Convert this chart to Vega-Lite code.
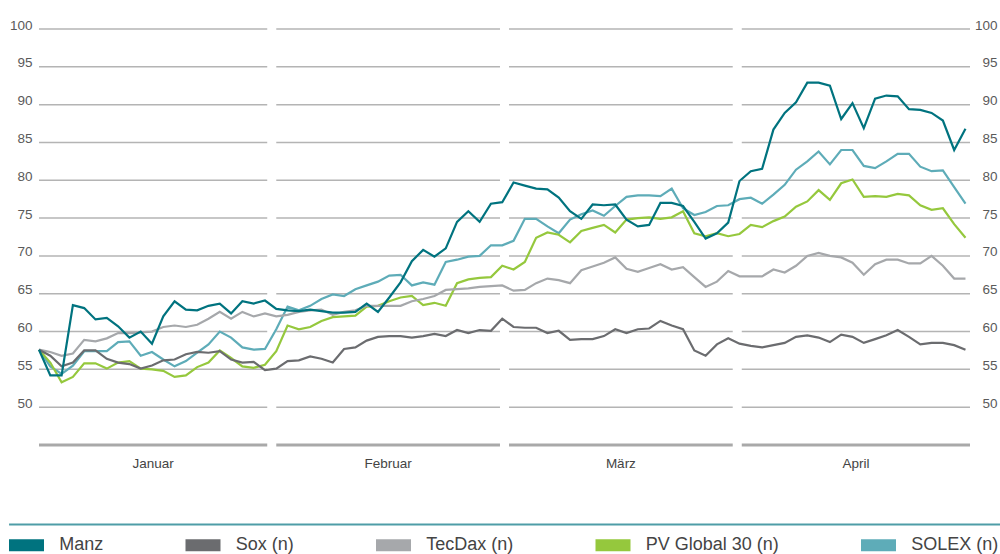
{
  "$schema": "https://vega.github.io/schema/vega-lite/v6.json",
  "width": 931,
  "height": 416,
  "autosize": "none",
  "padding": {"left": 39, "top": 29, "right": 30, "bottom": 109},
  "background": "white",
  "config": {"view": {"stroke": null}, "font": "Liberation Sans"},
  "datasets": {
    "months": [
      {"month": "Januar", "s": 0, "e": 20.2, "m": 10.1, "ys": [50, 55, 60, 65, 70, 75, 80, 85, 90, 95, 100]},
      {"month": "Februar", "s": 21.0, "e": 40.8, "m": 30.9, "ys": [50, 55, 60, 65, 70, 75, 80, 85, 90, 95, 100]},
      {"month": "März", "s": 41.6, "e": 61.4, "m": 51.5, "ys": [50, 55, 60, 65, 70, 75, 80, 85, 90, 95, 100]},
      {"month": "April", "s": 62.2, "e": 82.4, "m": 72.3, "ys": [50, 55, 60, 65, 70, 75, 80, 85, 90, 95, 100]}
    ],
    "prices": [
      {"i": 0, "Manz": 57.6, "Sox (n)": 57.6, "TecDax (n)": 57.6, "PV Global 30 (n)": 57.6, "SOLEX (n)": 57.6},
      {"i": 1, "Manz": 54.2, "Sox (n)": 56.8, "TecDax (n)": 57.3, "PV Global 30 (n)": 55.9, "SOLEX (n)": 55.4},
      {"i": 2, "Manz": 54.2, "Sox (n)": 55.4, "TecDax (n)": 56.8, "PV Global 30 (n)": 53.3, "SOLEX (n)": 54.4},
      {"i": 3, "Manz": 63.5, "Sox (n)": 55.9, "TecDax (n)": 57.1, "PV Global 30 (n)": 54.0, "SOLEX (n)": 55.5},
      {"i": 4, "Manz": 63.1, "Sox (n)": 57.5, "TecDax (n)": 58.9, "PV Global 30 (n)": 55.8, "SOLEX (n)": 57.4},
      {"i": 5, "Manz": 61.6, "Sox (n)": 57.5, "TecDax (n)": 58.7, "PV Global 30 (n)": 55.8, "SOLEX (n)": 57.4},
      {"i": 6, "Manz": 61.8, "Sox (n)": 56.4, "TecDax (n)": 59.1, "PV Global 30 (n)": 55.1, "SOLEX (n)": 57.4},
      {"i": 7, "Manz": 60.7, "Sox (n)": 55.9, "TecDax (n)": 59.8, "PV Global 30 (n)": 55.9, "SOLEX (n)": 58.6},
      {"i": 8, "Manz": 59.2, "Sox (n)": 55.7, "TecDax (n)": 59.8, "PV Global 30 (n)": 56.1, "SOLEX (n)": 58.7},
      {"i": 9, "Manz": 60.0, "Sox (n)": 55.1, "TecDax (n)": 59.9, "PV Global 30 (n)": 55.1, "SOLEX (n)": 56.8},
      {"i": 10, "Manz": 58.4, "Sox (n)": 55.5, "TecDax (n)": 60.0, "PV Global 30 (n)": 55.0, "SOLEX (n)": 57.3},
      {"i": 11, "Manz": 62.0, "Sox (n)": 56.2, "TecDax (n)": 60.6, "PV Global 30 (n)": 54.8, "SOLEX (n)": 56.3},
      {"i": 12, "Manz": 64.0, "Sox (n)": 56.3, "TecDax (n)": 60.8, "PV Global 30 (n)": 54.0, "SOLEX (n)": 55.4},
      {"i": 13, "Manz": 62.9, "Sox (n)": 57.0, "TecDax (n)": 60.6, "PV Global 30 (n)": 54.2, "SOLEX (n)": 56.1},
      {"i": 14, "Manz": 62.8, "Sox (n)": 57.3, "TecDax (n)": 60.9, "PV Global 30 (n)": 55.3, "SOLEX (n)": 57.2},
      {"i": 15, "Manz": 63.4, "Sox (n)": 57.2, "TecDax (n)": 61.7, "PV Global 30 (n)": 55.9, "SOLEX (n)": 58.3},
      {"i": 16, "Manz": 63.7, "Sox (n)": 57.4, "TecDax (n)": 62.6, "PV Global 30 (n)": 57.5, "SOLEX (n)": 60.0},
      {"i": 17, "Manz": 62.4, "Sox (n)": 56.3, "TecDax (n)": 61.7, "PV Global 30 (n)": 56.5, "SOLEX (n)": 59.2},
      {"i": 18, "Manz": 64.0, "Sox (n)": 55.9, "TecDax (n)": 62.6, "PV Global 30 (n)": 55.4, "SOLEX (n)": 57.9},
      {"i": 19, "Manz": 63.7, "Sox (n)": 56.0, "TecDax (n)": 62.0, "PV Global 30 (n)": 55.2, "SOLEX (n)": 57.6},
      {"i": 20, "Manz": 64.1, "Sox (n)": 54.9, "TecDax (n)": 62.4, "PV Global 30 (n)": 55.6, "SOLEX (n)": 57.7},
      {"i": 21, "Manz": 63.0, "Sox (n)": 55.1, "TecDax (n)": 62.0, "PV Global 30 (n)": 57.4, "SOLEX (n)": 60.3},
      {"i": 22, "Manz": 62.8, "Sox (n)": 56.1, "TecDax (n)": 62.2, "PV Global 30 (n)": 60.8, "SOLEX (n)": 63.3},
      {"i": 23, "Manz": 62.7, "Sox (n)": 56.2, "TecDax (n)": 62.6, "PV Global 30 (n)": 60.3, "SOLEX (n)": 62.8},
      {"i": 24, "Manz": 62.9, "Sox (n)": 56.7, "TecDax (n)": 62.8, "PV Global 30 (n)": 60.6, "SOLEX (n)": 63.4},
      {"i": 25, "Manz": 62.7, "Sox (n)": 56.4, "TecDax (n)": 62.9, "PV Global 30 (n)": 61.4, "SOLEX (n)": 64.3},
      {"i": 26, "Manz": 62.5, "Sox (n)": 55.9, "TecDax (n)": 62.2, "PV Global 30 (n)": 61.9, "SOLEX (n)": 64.9},
      {"i": 27, "Manz": 62.5, "Sox (n)": 57.7, "TecDax (n)": 62.6, "PV Global 30 (n)": 62.0, "SOLEX (n)": 64.7},
      {"i": 28, "Manz": 62.6, "Sox (n)": 57.9, "TecDax (n)": 62.8, "PV Global 30 (n)": 62.1, "SOLEX (n)": 65.6},
      {"i": 29, "Manz": 63.7, "Sox (n)": 58.8, "TecDax (n)": 63.4, "PV Global 30 (n)": 63.3, "SOLEX (n)": 66.1},
      {"i": 30, "Manz": 62.6, "Sox (n)": 59.3, "TecDax (n)": 63.4, "PV Global 30 (n)": 63.4, "SOLEX (n)": 66.6},
      {"i": 31, "Manz": 64.5, "Sox (n)": 59.4, "TecDax (n)": 63.4, "PV Global 30 (n)": 64.0, "SOLEX (n)": 67.4},
      {"i": 32, "Manz": 66.5, "Sox (n)": 59.4, "TecDax (n)": 63.4, "PV Global 30 (n)": 64.5, "SOLEX (n)": 67.5},
      {"i": 33, "Manz": 69.3, "Sox (n)": 59.2, "TecDax (n)": 64.0, "PV Global 30 (n)": 64.7, "SOLEX (n)": 66.1},
      {"i": 34, "Manz": 70.8, "Sox (n)": 59.4, "TecDax (n)": 64.3, "PV Global 30 (n)": 63.5, "SOLEX (n)": 66.5},
      {"i": 35, "Manz": 69.9, "Sox (n)": 59.7, "TecDax (n)": 64.7, "PV Global 30 (n)": 63.8, "SOLEX (n)": 66.2},
      {"i": 36, "Manz": 71.0, "Sox (n)": 59.4, "TecDax (n)": 65.5, "PV Global 30 (n)": 63.4, "SOLEX (n)": 69.2},
      {"i": 37, "Manz": 74.5, "Sox (n)": 60.2, "TecDax (n)": 65.6, "PV Global 30 (n)": 66.4, "SOLEX (n)": 69.5},
      {"i": 38, "Manz": 75.9, "Sox (n)": 59.8, "TecDax (n)": 65.7, "PV Global 30 (n)": 66.9, "SOLEX (n)": 69.9},
      {"i": 39, "Manz": 74.5, "Sox (n)": 60.2, "TecDax (n)": 65.9, "PV Global 30 (n)": 67.1, "SOLEX (n)": 70.0},
      {"i": 40, "Manz": 76.9, "Sox (n)": 60.1, "TecDax (n)": 66.0, "PV Global 30 (n)": 67.2, "SOLEX (n)": 71.4},
      {"i": 41, "Manz": 77.1, "Sox (n)": 61.7, "TecDax (n)": 66.1, "PV Global 30 (n)": 68.7, "SOLEX (n)": 71.4},
      {"i": 42, "Manz": 79.7, "Sox (n)": 60.6, "TecDax (n)": 65.4, "PV Global 30 (n)": 68.2, "SOLEX (n)": 72.0},
      {"i": 43, "Manz": 79.3, "Sox (n)": 60.5, "TecDax (n)": 65.5, "PV Global 30 (n)": 69.2, "SOLEX (n)": 74.9},
      {"i": 44, "Manz": 78.9, "Sox (n)": 60.5, "TecDax (n)": 66.4, "PV Global 30 (n)": 72.4, "SOLEX (n)": 74.9},
      {"i": 45, "Manz": 78.8, "Sox (n)": 59.8, "TecDax (n)": 67.0, "PV Global 30 (n)": 73.1, "SOLEX (n)": 73.9},
      {"i": 46, "Manz": 77.7, "Sox (n)": 60.1, "TecDax (n)": 66.8, "PV Global 30 (n)": 72.8, "SOLEX (n)": 73.0},
      {"i": 47, "Manz": 75.9, "Sox (n)": 58.9, "TecDax (n)": 66.4, "PV Global 30 (n)": 71.8, "SOLEX (n)": 74.8},
      {"i": 48, "Manz": 74.9, "Sox (n)": 59.0, "TecDax (n)": 68.1, "PV Global 30 (n)": 73.3, "SOLEX (n)": 75.5},
      {"i": 49, "Manz": 76.8, "Sox (n)": 59.0, "TecDax (n)": 68.6, "PV Global 30 (n)": 73.7, "SOLEX (n)": 76.0},
      {"i": 50, "Manz": 76.7, "Sox (n)": 59.4, "TecDax (n)": 69.1, "PV Global 30 (n)": 74.1, "SOLEX (n)": 75.3},
      {"i": 51, "Manz": 76.8, "Sox (n)": 60.3, "TecDax (n)": 69.8, "PV Global 30 (n)": 73.1, "SOLEX (n)": 76.6},
      {"i": 52, "Manz": 74.8, "Sox (n)": 59.8, "TecDax (n)": 68.3, "PV Global 30 (n)": 74.8, "SOLEX (n)": 77.8},
      {"i": 53, "Manz": 73.9, "Sox (n)": 60.3, "TecDax (n)": 67.9, "PV Global 30 (n)": 75.0, "SOLEX (n)": 78.0},
      {"i": 54, "Manz": 74.1, "Sox (n)": 60.4, "TecDax (n)": 68.4, "PV Global 30 (n)": 75.1, "SOLEX (n)": 78.0},
      {"i": 55, "Manz": 77.0, "Sox (n)": 61.4, "TecDax (n)": 68.9, "PV Global 30 (n)": 74.9, "SOLEX (n)": 77.9},
      {"i": 56, "Manz": 77.0, "Sox (n)": 60.8, "TecDax (n)": 68.2, "PV Global 30 (n)": 75.1, "SOLEX (n)": 78.9},
      {"i": 57, "Manz": 76.6, "Sox (n)": 60.3, "TecDax (n)": 68.5, "PV Global 30 (n)": 75.9, "SOLEX (n)": 76.3},
      {"i": 58, "Manz": 74.5, "Sox (n)": 57.5, "TecDax (n)": 67.2, "PV Global 30 (n)": 73.0, "SOLEX (n)": 75.4},
      {"i": 59, "Manz": 72.3, "Sox (n)": 56.8, "TecDax (n)": 65.9, "PV Global 30 (n)": 72.6, "SOLEX (n)": 75.8},
      {"i": 60, "Manz": 73.0, "Sox (n)": 58.3, "TecDax (n)": 66.6, "PV Global 30 (n)": 73.0, "SOLEX (n)": 76.6},
      {"i": 61, "Manz": 74.4, "Sox (n)": 59.1, "TecDax (n)": 68.0, "PV Global 30 (n)": 72.6, "SOLEX (n)": 76.7},
      {"i": 62, "Manz": 79.9, "Sox (n)": 58.4, "TecDax (n)": 67.3, "PV Global 30 (n)": 72.9, "SOLEX (n)": 77.5},
      {"i": 63, "Manz": 81.2, "Sox (n)": 58.1, "TecDax (n)": 67.3, "PV Global 30 (n)": 74.1, "SOLEX (n)": 77.7},
      {"i": 64, "Manz": 81.5, "Sox (n)": 57.9, "TecDax (n)": 67.3, "PV Global 30 (n)": 73.8, "SOLEX (n)": 76.9},
      {"i": 65, "Manz": 86.7, "Sox (n)": 58.2, "TecDax (n)": 68.2, "PV Global 30 (n)": 74.6, "SOLEX (n)": 78.1},
      {"i": 66, "Manz": 88.9, "Sox (n)": 58.5, "TecDax (n)": 67.8, "PV Global 30 (n)": 75.2, "SOLEX (n)": 79.4},
      {"i": 67, "Manz": 90.3, "Sox (n)": 59.3, "TecDax (n)": 68.7, "PV Global 30 (n)": 76.5, "SOLEX (n)": 81.4},
      {"i": 68, "Manz": 92.9, "Sox (n)": 59.5, "TecDax (n)": 70.0, "PV Global 30 (n)": 77.2, "SOLEX (n)": 82.5},
      {"i": 69, "Manz": 92.9, "Sox (n)": 59.2, "TecDax (n)": 70.4, "PV Global 30 (n)": 78.7, "SOLEX (n)": 83.8},
      {"i": 70, "Manz": 92.5, "Sox (n)": 58.6, "TecDax (n)": 70.0, "PV Global 30 (n)": 77.4, "SOLEX (n)": 82.1},
      {"i": 71, "Manz": 88.1, "Sox (n)": 59.6, "TecDax (n)": 69.8, "PV Global 30 (n)": 79.6, "SOLEX (n)": 84.0},
      {"i": 72, "Manz": 90.2, "Sox (n)": 59.3, "TecDax (n)": 69.1, "PV Global 30 (n)": 80.1, "SOLEX (n)": 84.0},
      {"i": 73, "Manz": 86.9, "Sox (n)": 58.5, "TecDax (n)": 67.5, "PV Global 30 (n)": 77.8, "SOLEX (n)": 81.9},
      {"i": 74, "Manz": 90.8, "Sox (n)": 59.0, "TecDax (n)": 68.9, "PV Global 30 (n)": 77.9, "SOLEX (n)": 81.6},
      {"i": 75, "Manz": 91.2, "Sox (n)": 59.5, "TecDax (n)": 69.5, "PV Global 30 (n)": 77.8, "SOLEX (n)": 82.5},
      {"i": 76, "Manz": 91.1, "Sox (n)": 60.2, "TecDax (n)": 69.5, "PV Global 30 (n)": 78.2, "SOLEX (n)": 83.5},
      {"i": 77, "Manz": 89.4, "Sox (n)": 59.3, "TecDax (n)": 69.0, "PV Global 30 (n)": 78.0, "SOLEX (n)": 83.5},
      {"i": 78, "Manz": 89.3, "Sox (n)": 58.3, "TecDax (n)": 69.0, "PV Global 30 (n)": 76.7, "SOLEX (n)": 81.8},
      {"i": 79, "Manz": 88.9, "Sox (n)": 58.5, "TecDax (n)": 70.0, "PV Global 30 (n)": 76.1, "SOLEX (n)": 81.2},
      {"i": 80, "Manz": 87.9, "Sox (n)": 58.5, "TecDax (n)": 68.7, "PV Global 30 (n)": 76.3, "SOLEX (n)": 81.3},
      {"i": 81, "Manz": 84.0, "Sox (n)": 58.2, "TecDax (n)": 67.0, "PV Global 30 (n)": 74.2, "SOLEX (n)": 79.1},
      {"i": 82, "Manz": 86.8, "Sox (n)": 57.6, "TecDax (n)": 67.0, "PV Global 30 (n)": 72.4, "SOLEX (n)": 76.9}
    ]
  },
  "resolve": {"axis": {"y": "independent"}},
  "layer": [
    {
      "data": {"name": "months"},
      "transform": [{"flatten": ["ys"]}],
      "mark": {"type": "rule", "color": "#b4b4b4", "strokeWidth": 1.5},
      "encoding": {
        "x": {"field": "s", "type": "quantitative", "scale": {"domain": [0, 82.4], "nice": false, "zero": false}, "axis": null},
        "x2": {"field": "e"},
        "y": {
          "field": "ys", "type": "quantitative",
          "scale": {"domain": [45, 100], "nice": false, "zero": false},
          "axis": {
            "orient": "left", "values": [50, 55, 60, 65, 70, 75, 80, 85, 90, 95, 100],
            "title": null, "grid": false, "domain": false, "ticks": false, "tickSize": 0,
            "labelPadding": 7, "labelOffset": -4, "labelFont": "Liberation Sans",
            "labelFontSize": 13.5, "labelColor": "#5a5a5a"
          }
        }
      }
    },
    {
      "data": {"name": "months"},
      "mark": {"type": "rule", "color": "#a9a9a9", "strokeWidth": 3},
      "encoding": {
        "x": {"field": "s", "type": "quantitative"},
        "x2": {"field": "e"},
        "y": {"datum": 45, "type": "quantitative", "axis": null}
      }
    },
    {
      "data": {"name": "months"},
      "mark": {"type": "text", "font": "Liberation Sans", "fontSize": 13.5, "color": "#444444", "baseline": "middle", "align": "center"},
      "encoding": {
        "x": {"field": "m", "type": "quantitative"},
        "y": {"datum": 42.5, "type": "quantitative", "axis": null},
        "text": {"field": "month"}
      }
    },
    {
      "data": {"values": [{}]},
      "mark": {"type": "rule", "color": "#4f9da7", "strokeWidth": 2, "clip": false},
      "encoding": {
        "x": {"datum": -2.65, "type": "quantitative"},
        "x2": {"datum": 85.1},
        "y": {"datum": 34.5, "type": "quantitative", "axis": null}
      }
    },
    {
      "data": {"name": "prices"},
      "transform": [{"fold": ["SOLEX (n)", "PV Global 30 (n)", "TecDax (n)", "Sox (n)", "Manz"], "as": ["series", "v"]}],
      "mark": {"type": "line", "strokeWidth": 2.2},
      "encoding": {
        "x": {"field": "i", "type": "quantitative"},
        "y": {
          "field": "v", "type": "quantitative",
          "axis": {
            "orient": "right", "values": [50, 55, 60, 65, 70, 75, 80, 85, 90, 95, 100],
            "title": null, "grid": false, "domain": false, "ticks": false, "tickSize": 0,
            "labelPadding": 27, "labelAlign": "right", "labelOffset": -4, "labelFont": "Liberation Sans",
            "labelFontSize": 13.5, "labelColor": "#5a5a5a"
          }
        },
        "color": {
          "field": "series", "type": "nominal",
          "scale": {
            "domain": ["Manz", "Sox (n)", "TecDax (n)", "PV Global 30 (n)", "SOLEX (n)"],
            "range": ["#00737f", "#6b6c6f", "#a6a8ab", "#95c83d", "#5eacb8"]
          },
          "legend": {
            "orient": "none", "legendX": -36, "legendY": 492.5, "direction": "horizontal",
            "title": null, "padding": 0,
            "symbolType": "M-1,0H1", "symbolSize": 1225, "symbolStrokeWidth": 12,
            "labelFont": "Liberation Sans", "labelFontSize": 18, "labelColor": "#444444",
            "labelOffset": 9.3, "columnPadding": 57.5
          }
        }
      }
    }
  ]
}
